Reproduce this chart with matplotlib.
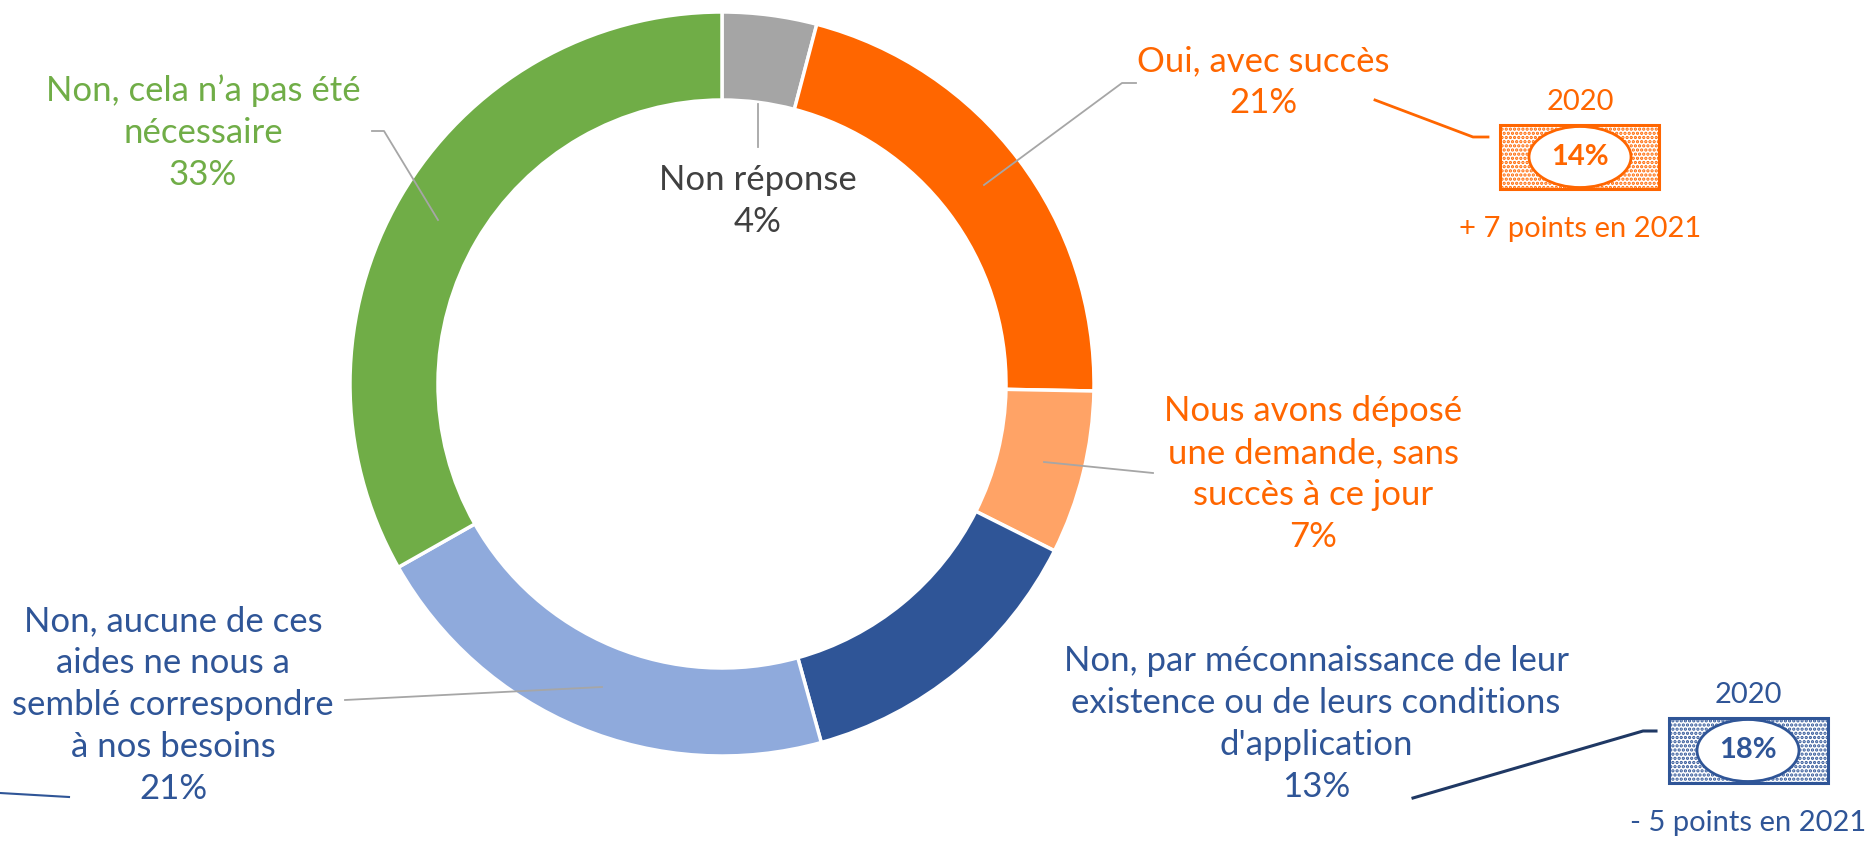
import matplotlib.pyplot as plt
from matplotlib.patches import Rectangle, Ellipse

plt.rcParams['font.family'] = ['Lato', 'DejaVu Sans']
plt.rcParams['hatch.linewidth'] = 1.6

########## data #################################################################
labels = ["Non réponse", "Oui, avec succès",
          "Nous avons déposé\nune demande, sans\nsuccès à ce jour",
          "Non, par méconnaissance de leur\nexistence ou de leurs conditions\nd'application",
          "Non, aucune de ces\naides ne nous a\nsemblé correspondre\nà nos besoins",
          "Non, cela n\u2019a pas été\nnécessaire"]
values = [4.1, 21.2, 7.1, 13.3, 21.1, 33.2]
shown_pct = [4, 21, 7, 13, 21, 33]
colors = ["#A5A5A5", "#FF6600", "#FFA366", "#2F5597", "#8FAADC", "#70AD47"]
text_colors = ["#404040", "#FF6600", "#FF6600", "#2F5597", "#2F5597", "#70AD47"]

prev_year = "2020"
prev_pct = {"Oui": 14, "Non par": 18}
delta_txt = {"Oui": "+ 7 points en 2021", "Non par": "- 5 points en 2021"}

########## figure in pixel coordinates ###########################################
W, H = 1868, 868
fig = plt.figure(figsize=(W / 100, H / 100), dpi=100)
ax = fig.add_axes([0, 0, 1, 1])

def Y(y):  # pixel row -> data y
    return H - y

cx, cy, R = 722, 384, 372
ax.pie(values, colors=colors, startangle=90, counterclock=False,
       radius=R, center=(cx, Y(cy)),
       wedgeprops=dict(width=88, edgecolor="white", linewidth=2.5))
ax.set_xlim(0, W)
ax.set_ylim(0, H)
ax.set_aspect("equal")
ax.axis("off")

fs = 25
ls = 1.38

# label positions (centre of text block)
pos = [(758, 201), (1263, 82), (1313, 474), (1316, 724), (173, 705), (203, 133)]
for lab, p, (x, y), c in zip(labels, shown_pct, pos, text_colors):
    ax.text(x, Y(y), f"{lab}\n{p}%", ha="center", va="center", fontsize=fs,
            color=c, linespacing=ls)

# leader lines
gray = "#A6A6A6"
leaders = [
    [(758, 104), (758, 147)],
    [(984, 185), (1122, 83), (1136, 83)],
    [(1044, 462), (1153, 473)],
    [(345, 700), (602, 687)],
    [(372, 131), (384, 131), (438, 220)],
]
for pts in leaders:
    ax.plot([p[0] for p in pts], [Y(p[1]) for p in pts], color=gray, lw=1.3)

# links to the 2020 boxes
ax.plot([1375, 1473, 1488], [Y(100), Y(137), Y(137)], color="#FF6600", lw=2)
ax.plot([1413, 1643, 1656], [Y(798), Y(731), Y(731)], color="#1F3864", lw=2.2)
ax.plot([0, 69], [Y(793), Y(797)], color="#2F5597", lw=1.5)

# 2020 comparison boxes
boxes = [("Oui", "#FF6600", 1500, 125, 159, 64, 1580),
         ("Non par", "#2F5597", 1669, 718, 159, 65, 1748)]
for key, c, x0, y0, w, h, xm in boxes:
    ax.add_patch(Rectangle((x0, Y(y0 + h)), w, h, facecolor="white",
                           edgecolor=c, hatch="....", lw=2.2))
    ax.add_patch(Ellipse((xm, Y(y0 + h / 2)), 102, h - 3, facecolor="white",
                         edgecolor=c, lw=2))
    ax.text(xm, Y(y0 + h / 2), f"{prev_pct[key]}%", ha="center", va="center",
            fontsize=21, fontweight="bold", color=c)
    ax.text(xm, Y(y0 - 23), prev_year, ha="center", va="center",
            fontsize=21, color=c)
    ax.text(xm, Y(y0 + h + 40), delta_txt[key], ha="center", va="center",
            fontsize=21, color=c)

fig.savefig("out.png", dpi=100)
